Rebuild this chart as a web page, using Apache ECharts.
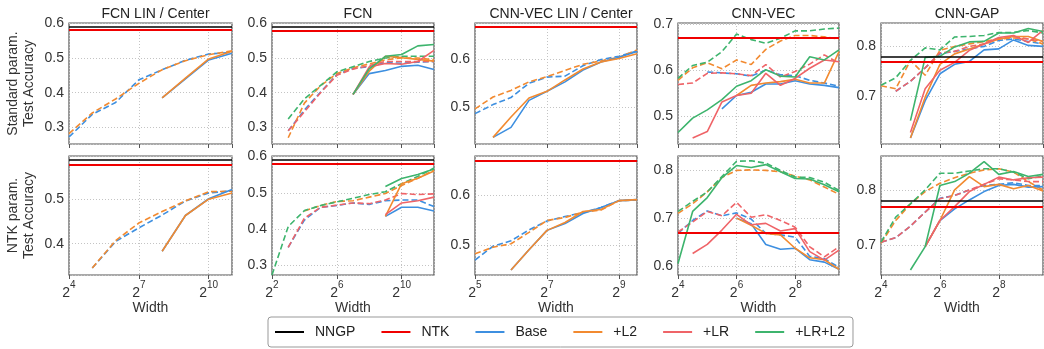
<!DOCTYPE html>
<html>
<head>
<meta charset="utf-8">
<script src="https://cdn.jsdelivr.net/npm/echarts@6/dist/echarts.min.js"></script>
<style>
html,body{margin:0;padding:0;background:#fff;}
#chart{width:1044px;height:349px;}
</style>
</head>
<body>
<div id="chart"></div>
<script>
// ---------- titles / legend ----------
const titles = ['FCN LIN / Center', 'FCN', 'CNN-VEC LIN / Center', 'CNN-VEC', 'CNN-GAP'];
const rowNames = ['Standard param.\nTest Accuracy', 'NTK param.\nTest Accuracy'];
const legendNames = ['NNGP', 'NTK', 'Base', '+L2', '+LR', '+LR+L2'];

// ---------- x axes: log2(width) ----------
const xMin = [4, 2, 5, 4, 4];
const xMax = [11, 12, 9.5, 9.5, 9.5];
const xStep = [3, 4, 2, 2, 2];
// ---------- y axes ranges ----------
const yMinTop = [0.253, 0.252, 0.422, 0.44, 0.604];
const yMaxTop = [0.6, 0.601, 0.677, 0.702, 0.847];
const yMinBot = [0.329, 0.274, 0.439, 0.581, 0.647];
const yMaxBot = [0.599, 0.601, 0.679, 0.83, 0.861];

// ---------- reference lines ----------
const nngpTop = [0.587, 0.587, 0.667, 0.669, 0.780];
const ntkTop  = [0.583, 0.583, 0.667, 0.667, 0.770];
const nngpBot = [0.587, 0.587, 0.668, 0.666, 0.780];
const ntkBot  = [0.583, 0.583, 0.668, 0.668, 0.770];

// ---------- widths (log2) ----------
const wFcnLin = [4, 5, 6, 7, 8, 9, 10, 11];
const wFcn = [3, 4, 5, 6, 7, 8, 9, 10, 11, 12];
const wFcnNtk = [2, 3, 4, 5, 6, 7, 8, 9, 10, 11, 12];
const wCnnLin = [5, 5.5, 6, 6.5, 7, 7.5, 8, 8.5, 9, 9.5];
const wCnn = [4, 4.5, 5, 5.5, 6, 6.5, 7, 7.5, 8, 8.5, 9, 9.5];

// ---------- FCN LIN / Center, standard ----------
const fcnLinStdBaseD = [0.273, 0.338, 0.372, 0.437, 0.466, 0.493, 0.511, 0.516];
const fcnLinStdL2D   = [0.283, 0.342, 0.382, 0.427, 0.466, 0.492, 0.509, 0.520];
const fcnLinStdBaseS = [null, null, null, null, 0.385, 0.440, 0.494, 0.513];
const fcnLinStdL2S   = [null, null, null, null, 0.385, 0.442, 0.497, 0.519];
// ---------- FCN LIN / Center, NTK ----------
const fcnLinNtkBaseD = [null, 0.345, 0.405, 0.436, 0.465, 0.497, 0.515, 0.520];
const fcnLinNtkL2D   = [null, 0.345, 0.407, 0.447, 0.473, 0.497, 0.518, 0.519];
const fcnLinNtkBaseS = [null, null, null, null, 0.383, 0.464, 0.502, 0.523];
const fcnLinNtkL2S   = [null, null, null, null, 0.383, 0.464, 0.501, 0.515];

// ---------- FCN, standard ----------
const fcnStdBaseD = [0.290, 0.350, 0.402, 0.452, 0.470, 0.475, 0.487, 0.485, 0.488, 0.490];
const fcnStdL2D   = [0.270, 0.370, 0.420, 0.455, 0.472, 0.483, 0.495, 0.500, 0.500, 0.495];
const fcnStdLrD   = [0.290, 0.345, 0.400, 0.450, 0.468, 0.478, 0.490, 0.490, 0.490, 0.490];
const fcnStdLrL2D = [0.324, 0.382, 0.421, 0.460, 0.475, 0.490, 0.500, 0.505, 0.505, 0.505];
const fcnStdBaseS = [null, null, null, null, 0.395, 0.455, 0.464, 0.476, 0.479, 0.467];
const fcnStdL2S   = [null, null, null, null, 0.395, 0.462, 0.505, 0.501, 0.496, 0.491];
const fcnStdLrS   = [null, null, null, null, 0.395, 0.474, 0.484, 0.482, 0.490, 0.522];
const fcnStdLrL2S = [null, null, null, null, 0.395, 0.469, 0.505, 0.510, 0.535, 0.539];
// ---------- FCN, NTK ----------
const fcnNtkBaseD = [null, 0.350, 0.425, 0.460, 0.465, 0.472, 0.468, 0.478, 0.480, 0.480, 0.462];
const fcnNtkL2D   = [null, null, 0.450, 0.465, 0.476, 0.478, 0.488, 0.498, 0.520, 0.540, 0.562];
const fcnNtkLrD   = [null, 0.350, 0.430, 0.460, 0.466, 0.472, 0.470, 0.480, 0.498, 0.495, 0.497];
const fcnNtkLrL2D = [0.274, 0.407, 0.451, 0.465, 0.475, 0.485, 0.495, 0.503, 0.525, 0.545, 0.568];
const fcnNtkBaseS = [null, null, null, null, null, null, null, 0.435, 0.460, 0.460, 0.450];
const fcnNtkL2S   = [null, null, null, null, null, null, null, 0.435, 0.525, 0.540, 0.560];
const fcnNtkLrS   = [null, null, null, null, null, null, null, 0.440, 0.472, 0.478, 0.488];
const fcnNtkLrL2S = [null, null, null, null, null, null, null, 0.517, 0.539, 0.550, 0.565];

// ---------- CNN-VEC LIN / Center, standard ----------
const cnnLinStdBaseD = [0.486, 0.505, 0.520, 0.550, 0.563, 0.565, 0.587, 0.600, 0.607, 0.618];
const cnnLinStdL2D   = [0.496, 0.521, 0.535, 0.553, 0.564, 0.577, 0.590, 0.597, 0.605, 0.620];
const cnnLinStdBaseS = [null, 0.436, 0.457, 0.514, 0.533, 0.553, 0.578, 0.595, 0.605, 0.617];
const cnnLinStdL2S   = [null, 0.436, 0.479, 0.519, 0.533, 0.557, 0.580, 0.595, 0.602, 0.612];
// ---------- CNN-VEC LIN / Center, NTK ----------
const cnnLinNtkBaseD = [0.469, 0.497, 0.508, 0.530, 0.548, 0.557, 0.565, 0.575, 0.589, 0.590];
const cnnLinNtkL2D   = [0.482, 0.495, 0.502, 0.525, 0.549, 0.555, 0.566, 0.570, 0.589, 0.590];
const cnnLinNtkBaseS = [null, null, 0.449, 0.490, 0.529, 0.543, 0.563, 0.575, 0.589, 0.591];
const cnnLinNtkL2S   = [null, null, 0.449, 0.490, 0.529, 0.545, 0.567, 0.571, 0.589, 0.591];

// ---------- CNN-VEC, standard ----------
const cnnStdBaseD = [null, null, 0.596, 0.594, 0.592, 0.587, 0.600, 0.590, 0.588, 0.578, 0.572, 0.565];
const cnnStdL2D   = [0.578, 0.605, 0.616, 0.603, 0.622, 0.612, 0.645, 0.663, 0.675, 0.675, 0.672, 0.667];
const cnnStdLrD   = [0.569, 0.572, 0.593, 0.594, 0.592, 0.588, 0.612, 0.585, 0.597, 0.613, 0.633, 0.615];
const cnnStdLrL2D = [0.582, 0.610, 0.617, 0.640, 0.678, 0.666, 0.658, 0.669, 0.685, 0.685, 0.689, 0.691];
const cnnStdBaseS = [null, null, null, 0.516, 0.545, 0.552, 0.570, 0.570, 0.577, 0.570, 0.567, 0.562];
const cnnStdL2S   = [null, null, null, null, 0.545, 0.567, 0.572, 0.575, 0.580, 0.572, 0.572, 0.640];
const cnnStdLrS   = [null, 0.453, 0.467, 0.531, 0.545, 0.550, 0.593, 0.567, 0.582, 0.604, 0.622, 0.618];
const cnnStdLrL2S = [0.465, 0.496, 0.514, 0.536, 0.565, 0.577, 0.601, 0.587, 0.585, 0.629, 0.622, 0.644];
// ---------- CNN-VEC, NTK ----------
const cnnNtkBaseD = [0.668, 0.695, 0.715, 0.705, 0.711, 0.698, 0.668, 0.665, 0.660, 0.620, 0.615, 0.597];
const cnnNtkL2D   = [0.710, 0.730, 0.755, 0.785, 0.800, 0.801, 0.800, 0.797, 0.788, 0.780, 0.765, 0.750];
const cnnNtkLrD   = [0.671, 0.692, 0.714, 0.705, 0.733, 0.702, 0.707, 0.695, 0.681, 0.640, 0.619, 0.640];
const cnnNtkLrL2D = [0.714, 0.735, 0.755, 0.787, 0.819, 0.820, 0.815, 0.800, 0.786, 0.785, 0.775, 0.758];
const cnnNtkBaseS = [null, null, null, null, 0.700, 0.688, 0.645, 0.635, 0.637, 0.613, 0.608, 0.593];
const cnnNtkL2S   = [null, null, null, null, 0.700, 0.685, 0.668, 0.665, 0.637, 0.617, 0.613, 0.593];
const cnnNtkLrS   = [null, 0.626, 0.645, 0.675, 0.708, 0.686, 0.689, 0.673, 0.678, 0.630, 0.612, 0.633];
const cnnNtkLrL2S = [0.605, 0.714, 0.743, 0.785, 0.810, 0.806, 0.812, 0.797, 0.783, 0.782, 0.770, 0.755];

// ---------- CNN-GAP, standard ----------
const gapStdBaseD = [null, 0.710, 0.730, 0.757, 0.785, 0.790, 0.795, 0.800, 0.812, 0.815, 0.810, 0.805];
const gapStdL2D   = [0.721, 0.715, 0.772, 0.742, 0.792, 0.800, 0.805, 0.810, 0.815, 0.817, 0.815, 0.805];
const gapStdLrD   = [null, 0.710, 0.730, 0.757, 0.787, 0.790, 0.800, 0.805, 0.815, 0.820, 0.815, 0.810];
const gapStdLrL2D = [0.722, 0.737, 0.772, 0.797, 0.793, 0.819, 0.820, 0.822, 0.828, 0.828, 0.832, 0.827];
const gapStdBaseS = [null, null, 0.616, 0.691, 0.745, 0.764, 0.770, 0.793, 0.795, 0.813, 0.802, 0.800];
const gapStdL2S   = [null, null, 0.616, 0.698, 0.764, 0.785, 0.795, 0.805, 0.815, 0.820, 0.820, 0.810];
const gapStdLrS   = [null, null, 0.627, 0.715, 0.752, 0.768, 0.792, 0.805, 0.818, 0.822, 0.808, 0.832];
const gapStdLrL2S = [null, null, 0.651, 0.778, 0.780, 0.799, 0.809, 0.810, 0.827, 0.827, 0.836, 0.830];
// ---------- CNN-GAP, NTK ----------
const gapNtkBaseD = [0.706, 0.714, 0.735, 0.760, 0.785, 0.790, 0.800, 0.808, 0.810, 0.813, 0.808, 0.808];
const gapNtkL2D   = [0.704, 0.745, 0.775, 0.797, 0.812, 0.822, 0.830, 0.836, 0.838, 0.832, 0.815, 0.800];
const gapNtkLrD   = [0.706, 0.714, 0.735, 0.760, 0.784, 0.790, 0.800, 0.810, 0.820, 0.818, 0.815, 0.815];
const gapNtkLrL2D = [0.706, 0.751, 0.775, 0.800, 0.830, 0.830, 0.834, 0.838, 0.838, 0.832, 0.820, 0.825];
const gapNtkBaseS = [null, null, null, 0.698, 0.745, 0.766, 0.782, 0.797, 0.808, 0.810, 0.805, 0.806];
const gapNtkL2S   = [null, null, null, 0.698, 0.745, 0.800, 0.824, 0.806, 0.810, 0.802, 0.808, 0.798];
const gapNtkLrS   = [null, null, null, 0.698, 0.745, 0.770, 0.797, 0.810, 0.823, 0.818, 0.822, 0.823];
const gapNtkLrL2S = [null, null, 0.656, 0.698, 0.808, 0.815, 0.830, 0.851, 0.828, 0.833, 0.824, 0.828];

// ---------- build ----------
const fam = "'Liberation Sans', Arial, Helvetica, sans-serif";
const COL = { NNGP: '#000000', NTK: '#f00000', Base: '#3d8fe0', '+L2': '#f28a30', '+LR': '#ef6468', '+LR+L2': '#3db46d' };

const panelLines = [
  [['Base', true, wFcnLin, fcnLinStdBaseD], ['+L2', true, wFcnLin, fcnLinStdL2D],
   ['Base', false, wFcnLin, fcnLinStdBaseS], ['+L2', false, wFcnLin, fcnLinStdL2S]],
  [['Base', true, wFcn, fcnStdBaseD], ['+L2', true, wFcn, fcnStdL2D], ['+LR', true, wFcn, fcnStdLrD], ['+LR+L2', true, wFcn, fcnStdLrL2D],
   ['Base', false, wFcn, fcnStdBaseS], ['+L2', false, wFcn, fcnStdL2S], ['+LR', false, wFcn, fcnStdLrS], ['+LR+L2', false, wFcn, fcnStdLrL2S]],
  [['Base', true, wCnnLin, cnnLinStdBaseD], ['+L2', true, wCnnLin, cnnLinStdL2D],
   ['Base', false, wCnnLin, cnnLinStdBaseS], ['+L2', false, wCnnLin, cnnLinStdL2S]],
  [['Base', true, wCnn, cnnStdBaseD], ['+L2', true, wCnn, cnnStdL2D], ['+LR', true, wCnn, cnnStdLrD], ['+LR+L2', true, wCnn, cnnStdLrL2D],
   ['Base', false, wCnn, cnnStdBaseS], ['+L2', false, wCnn, cnnStdL2S], ['+LR', false, wCnn, cnnStdLrS], ['+LR+L2', false, wCnn, cnnStdLrL2S]],
  [['Base', true, wCnn, gapStdBaseD], ['+L2', true, wCnn, gapStdL2D], ['+LR', true, wCnn, gapStdLrD], ['+LR+L2', true, wCnn, gapStdLrL2D],
   ['Base', false, wCnn, gapStdBaseS], ['+L2', false, wCnn, gapStdL2S], ['+LR', false, wCnn, gapStdLrS], ['+LR+L2', false, wCnn, gapStdLrL2S]],
  [['Base', true, wFcnLin, fcnLinNtkBaseD], ['+L2', true, wFcnLin, fcnLinNtkL2D],
   ['Base', false, wFcnLin, fcnLinNtkBaseS], ['+L2', false, wFcnLin, fcnLinNtkL2S]],
  [['Base', true, wFcnNtk, fcnNtkBaseD], ['+L2', true, wFcnNtk, fcnNtkL2D], ['+LR', true, wFcnNtk, fcnNtkLrD], ['+LR+L2', true, wFcnNtk, fcnNtkLrL2D],
   ['Base', false, wFcnNtk, fcnNtkBaseS], ['+L2', false, wFcnNtk, fcnNtkL2S], ['+LR', false, wFcnNtk, fcnNtkLrS], ['+LR+L2', false, wFcnNtk, fcnNtkLrL2S]],
  [['Base', true, wCnnLin, cnnLinNtkBaseD], ['+L2', true, wCnnLin, cnnLinNtkL2D],
   ['Base', false, wCnnLin, cnnLinNtkBaseS], ['+L2', false, wCnnLin, cnnLinNtkL2S]],
  [['Base', true, wCnn, cnnNtkBaseD], ['+L2', true, wCnn, cnnNtkL2D], ['+LR', true, wCnn, cnnNtkLrD], ['+LR+L2', true, wCnn, cnnNtkLrL2D],
   ['Base', false, wCnn, cnnNtkBaseS], ['+L2', false, wCnn, cnnNtkL2S], ['+LR', false, wCnn, cnnNtkLrS], ['+LR+L2', false, wCnn, cnnNtkLrL2S]],
  [['Base', true, wCnn, gapNtkBaseD], ['+L2', true, wCnn, gapNtkL2D], ['+LR', true, wCnn, gapNtkLrD], ['+LR+L2', true, wCnn, gapNtkLrL2D],
   ['Base', false, wCnn, gapNtkBaseS], ['+L2', false, wCnn, gapNtkL2S], ['+LR', false, wCnn, gapNtkLrS], ['+LR+L2', false, wCnn, gapNtkLrL2S]]
];

const lefts = [69, 272, 475, 678, 881];
const widths = [163, 162, 162, 161, 162];
const tops = [23, 156];
const heights = [121, 119];

const grids = [], xAxes = [], yAxes = [], series = [], titleList = [];

function yLabel(v) {
  const r = Math.round(v * 10) / 10;
  return Math.abs(v - r) < 1e-6 ? r.toFixed(1) : '';
}
function xLabel(v) {
  const r = Math.round(v);
  return Math.abs(v - r) < 1e-6 ? '{b|2}{s|' + r + '}' : '';
}

for (let c = 0; c < 5; c++) {
  titleList.push({
    text: titles[c], left: lefts[c] + widths[c] / 2, top: 2, textAlign: 'center',
    textStyle: { fontSize: 14, fontWeight: 'normal', color: '#222', fontFamily: fam }
  });
}

for (let r = 0; r < 2; r++) {
  for (let c = 0; c < 5; c++) {
    const idx = r * 5 + c;
    grids.push({ left: lefts[c], top: tops[r], width: widths[c], height: heights[r],
      show: true, borderColor: '#555', borderWidth: 1.2, backgroundColor: 'transparent' });
    xAxes.push({
      type: 'value', gridIndex: idx, min: xMin[c], max: xMax[c], interval: xStep[c],
      axisLine: { show: false },
      axisTick: { show: true, length: 4, lineStyle: { color: '#555', width: 1 } },
      splitLine: { show: true, lineStyle: { color: '#c4c4c4', type: [1, 2], width: 1 } },
      axisLabel: {
        show: r === 1, formatter: xLabel, showMaxLabel: false, margin: 5,
        rich: {
          b: { fontSize: 14, lineHeight: 20, verticalAlign: 'bottom', color: '#333', fontFamily: fam },
          s: { fontSize: 10, lineHeight: 10, verticalAlign: 'top', color: '#333', fontFamily: fam }
        }
      },
      name: r === 1 ? 'Width' : '', nameLocation: 'middle', nameGap: 20,
      nameTextStyle: { fontSize: 14, color: '#333', fontFamily: fam }
    });
    yAxes.push({
      type: 'value', gridIndex: idx,
      min: r === 0 ? yMinTop[c] : yMinBot[c], max: r === 0 ? yMaxTop[c] : yMaxBot[c],
      minInterval: 0.1, maxInterval: 0.1,
      axisLine: { show: false }, axisTick: { show: false },
      splitLine: { show: true, lineStyle: { color: '#c4c4c4', type: [1, 2], width: 1 } },
      axisLabel: { formatter: yLabel, margin: 5, fontSize: 14, color: '#333', fontFamily: fam },
      name: c === 0 ? rowNames[r] : '', nameLocation: 'middle', nameRotate: 90, nameGap: 32,
      nameTextStyle: { fontSize: 14, color: '#333', fontFamily: fam, lineHeight: 16 }
    });

    const nn = r === 0 ? nngpTop[c] : nngpBot[c];
    const nt = r === 0 ? ntkTop[c] : ntkBot[c];
    [['NNGP', nn, 1.5], ['NTK', nt, 2]].forEach(([nm, val, w]) => {
      series.push({
        type: 'line', name: nm, xAxisIndex: idx, yAxisIndex: idx, data: [],
        symbol: 'none', animation: false, silent: true,
        lineStyle: { color: COL[nm], width: w }, itemStyle: { color: COL[nm] },
        markLine: { symbol: 'none', silent: true, animation: false, label: { show: false },
          lineStyle: { color: COL[nm], width: w, type: 'solid' }, data: [{ yAxis: val }] }
      });
    });

    panelLines[idx].forEach(([nm, dashed, xs, ys]) => {
      const data = [];
      xs.forEach((x, i) => { if (ys[i] != null) data.push([x, ys[i]]); });
      series.push({
        type: 'line', name: nm, xAxisIndex: idx, yAxisIndex: idx, data,
        symbol: 'none', showSymbol: false, animation: false, silent: true,
        lineStyle: { color: COL[nm], width: 1.6, type: dashed ? [6, 3] : 'solid' },
        itemStyle: { color: COL[nm] }
      });
    });
  }
}

const chart = echarts.init(document.getElementById('chart'), null, { renderer: 'canvas' });
chart.setOption({
  backgroundColor: '#fff',
  animation: false,
  textStyle: { fontFamily: fam },
  title: titleList,
  grid: grids,
  xAxis: xAxes,
  yAxis: yAxes,
  legend: {
    left: 268, top: 317, orient: 'horizontal', selectedMode: false,
    icon: 'rect', itemWidth: 29, itemHeight: 2, itemGap: 26,
    padding: [8, 8, 8, 7], borderColor: '#999', borderWidth: 1, borderRadius: 3,
    textStyle: { fontSize: 14, color: '#222', fontFamily: fam, padding: [0, 0, 0, 6] },
    data: legendNames
  },
  series: series
});
</script>
</body>
</html>
